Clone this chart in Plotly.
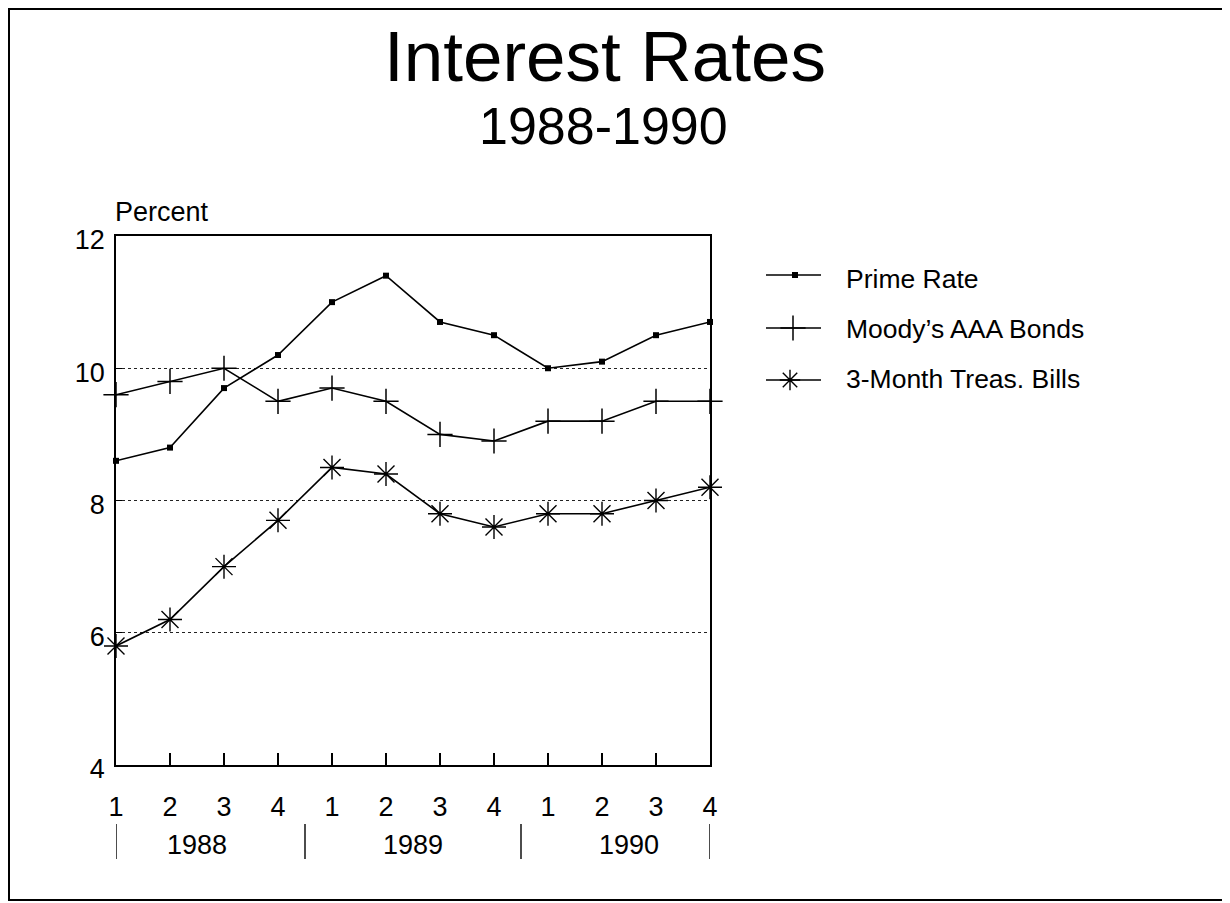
import plotly.graph_objects as go

# ---------------- data ----------------
quarters = ["1", "2", "3", "4", "1", "2", "3", "4", "1", "2", "3", "4"]
years = ["1988", "1989", "1990"]
prime_rate = [8.6, 8.8, 9.7, 10.2, 11.0, 11.4, 10.7, 10.5, 10.0, 10.1, 10.5, 10.7]
moodys_aaa = [9.6, 9.8, 10.0, 9.5, 9.7, 9.5, 9.0, 8.9, 9.2, 9.2, 9.5, 9.5]
tbills_3m = [5.8, 6.2, 7.0, 7.7, 8.5, 8.4, 7.8, 7.6, 7.8, 7.8, 8.0, 8.2]
y_ticks = [4, 6, 8, 10, 12]
series_names = ["Prime Rate", "Moody\u2019s AAA Bonds", "3-Month Treas. Bills"]

# ---------------- layout constants (pixels in the page) ----------------
W, H = 1230, 903
OFF = 8                  # default body margin of the html page
PX0, PX1 = 116, 710      # plot area left/right
PY0, PY1 = 236, 765      # plot area top/bottom
FONT = "Liberation Sans, Arial, Helvetica, sans-serif"


def px(x):
    return (x - OFF) / W


def py(y):
    return 1 - (y - OFF) / H


xs = list(range(len(quarters)))

styles = [
    dict(symbol="square", size=6, color="black", line=dict(width=0)),
    dict(symbol="cross-thin", size=18, color="black", line=dict(width=1.5, color="black")),
    dict(symbol="asterisk", size=20, color="black", line=dict(width=1.4, color="black")),
]

fig = go.Figure()
for name, vals, mk in zip(series_names, [prime_rate, moodys_aaa, tbills_3m], styles):
    fig.add_trace(go.Scatter(
        x=xs, y=vals, mode="lines+markers", name=name,
        line=dict(color="black", width=1.6),
        marker=mk, cliponaxis=False, showlegend=False,
        xaxis="x", yaxis="y",
    ))

# ---------------- manual legend (keys on a hidden pixel axis) ----------------
leg_line_y = [275, 328, 380]
leg_text_y = [279, 329, 379.5]
leg_marker_x = [795, 793, 790]
for i, (name, mk) in enumerate(zip(series_names, styles)):
    fig.add_trace(go.Scatter(
        x=[766 - OFF, 821 - OFF], y=[leg_line_y[i] - OFF] * 2, mode="lines",
        line=dict(color="black", width=1.3), showlegend=False,
        xaxis="x2", yaxis="y2", hoverinfo="skip",
    ))
    mk2 = dict(mk)
    if mk["symbol"] == "asterisk":
        mk2 = dict(mk, size=17)
    fig.add_trace(go.Scatter(
        x=[leg_marker_x[i] - OFF], y=[leg_line_y[i] - OFF], mode="markers",
        marker=mk2, showlegend=False, xaxis="x2", yaxis="y2", hoverinfo="skip",
    ))

annotations = [
    dict(text="Interest Rates", x=px(605), y=py(56), xref="paper", yref="paper",
         xanchor="center", yanchor="middle", showarrow=False,
         font=dict(size=71, family=FONT, color="black")),
    dict(text="1988-1990", x=px(603), y=py(126), xref="paper", yref="paper",
         xanchor="center", yanchor="middle", showarrow=False,
         font=dict(size=52, family=FONT, color="black")),
    dict(text="Percent", x=px(113), y=py(212), xref="paper", yref="paper",
         xanchor="left", yanchor="middle", showarrow=False,
         font=dict(size=27, family=FONT, color="black")),
]
for i, name in enumerate(series_names):
    annotations.append(dict(
        text=name, x=px(844), y=py(leg_text_y[i]), xref="paper", yref="paper",
        xanchor="left", yanchor="middle", showarrow=False,
        font=dict(size=26.5, family=FONT, color="black")))

# year labels and separators
n_per_year = 4
shapes = []
sep_positions = [0] + [n_per_year * k - 0.5 for k in range(1, len(years))] + [len(quarters) - 1]
for s in sep_positions:
    shapes.append(dict(type="line", xref="x", yref="paper", x0=s, x1=s,
                       y0=py(824), y1=py(859), line=dict(color="black", width=1.4)))
for k, yr in enumerate(years):
    annotations.append(dict(
        text=yr, x=n_per_year * k + 1.5, y=py(845), xref="x", yref="paper",
        xanchor="center", yanchor="middle", showarrow=False,
        font=dict(size=27, family=FONT, color="black")))

# page frame
shapes.append(dict(type="rect", xref="paper", yref="paper",
                   x0=px(9), x1=px(1228), y0=py(900), y1=py(9),
                   line=dict(color="black", width=2)))

fig.update_layout(
    template="none",
    width=W, height=H,
    margin=dict(l=0, r=0, t=0, b=0, pad=0),
    paper_bgcolor="white", plot_bgcolor="rgba(0,0,0,0)",
    font=dict(family=FONT, color="black"),
    showlegend=False,
    annotations=annotations,
    shapes=shapes,
    xaxis=dict(
        domain=[px(PX0), px(PX1)], range=[0, len(quarters) - 1], automargin=False,
        tickmode="array", tickvals=xs, ticktext=quarters,
        ticks="inside", ticklen=12, tickwidth=1.5, tickcolor="black",
        showline=True, linecolor="black", linewidth=1.6, mirror=True,
        showgrid=False, zeroline=False,
        tickfont=dict(size=27, family=FONT, color="black"),
        ticklabelstandoff=17,
    ),
    yaxis=dict(
        domain=[py(PY1), py(PY0)], range=[4, 12], automargin=False,
        tickmode="array", tickvals=y_ticks,
        ticks="inside", ticklen=6, tickwidth=1.3, tickcolor="black",
        showline=True, linecolor="black", linewidth=1.6, mirror=True,
        showgrid=True, gridcolor="#222222", gridwidth=1.2, griddash="dot",
        zeroline=False,
        tickfont=dict(size=27, family=FONT, color="black"),
        ticklabelstandoff=4, ticklabelshift=4,
    ),
    xaxis2=dict(domain=[0, 1], range=[0, W], visible=False, anchor="y2",
                fixedrange=True, automargin=False),
    yaxis2=dict(domain=[0, 1], range=[H, 0], visible=False, anchor="x2",
                fixedrange=True, automargin=False),
)

fig.write_html("out.html")
